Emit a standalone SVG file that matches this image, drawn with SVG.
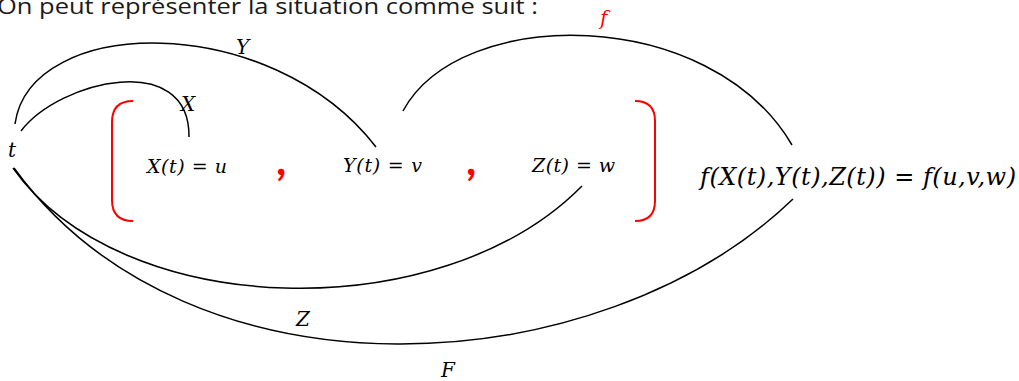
<svg xmlns="http://www.w3.org/2000/svg" width="1019" height="381" viewBox="0 0 1019 381">
  <style>
    .title { font-family: "Open Sans", "Liberation Sans", sans-serif; font-size: 22px; fill: #1a1a1a; }
    .math { font-family: "DejaVu Serif", "Liberation Serif", serif; font-style: italic; fill: #000; }
    .sm { font-size: 19px; }
    .lg { font-size: 24px; }
    .lbl { font-size: 20px; }
    .red { fill: #ff0000; }
    .arc { fill: none; stroke: #000; stroke-width: 1.5; }
    .brk { fill: none; stroke: #ff0000; stroke-width: 2; }
    .comma { font-family: Lato, "Open Sans", sans-serif; font-weight: bold; font-size: 44px; fill: #ff0000; }
  </style>
  <rect width="1019" height="381" fill="#fff"/>
  <text class="title" x="-3" y="14" textLength="541" lengthAdjust="spacingAndGlyphs">On peut représenter la situation comme suit :</text>

  <g id="connectors">
    <path class="arc" d="M15,124 C30,15 270,10 376,147"/>
    <path class="arc" d="M21,131 C60,80 190,50 189,137"/>
    <path class="arc" d="M403,111 C460,5 710,5 792,145"/>
    <path class="arc" d="M13,168 C120,320 440,330 582,186"/>
    <path class="arc" d="M14,168 C190,410 600,385 793,199"/>
    <text class="math lbl" x="236" y="54">Y</text>
    <text class="math lbl" x="181" y="111">X</text>
    <text class="math lbl red" x="600" y="25">f</text>
    <text class="math lbl" x="296" y="326">Z</text>
    <text class="math lbl" x="441" y="377">F</text>
  </g>

  <g id="node-t">
    <text class="math lbl" x="8" y="157">t</text>
  </g>

  <g id="node-bracket-left">
    <path class="brk" d="M133,101 Q112,101 112,122 L112,200 Q112,221 133,221"/>
  </g>
  <g id="node-x">
    <text class="math sm" x="147" y="173" textLength="80" lengthAdjust="spacing">X(t) = u</text>
  </g>
  <g id="node-comma1">
    <text class="comma" x="276" y="175">,</text>
  </g>
  <g id="node-y">
    <text class="math sm" x="343" y="172" textLength="79" lengthAdjust="spacing">Y(t) = v</text>
  </g>
  <g id="node-comma2">
    <text class="comma" x="466" y="175">,</text>
  </g>
  <g id="node-z">
    <text class="math sm" x="532" y="172" textLength="83" lengthAdjust="spacing">Z(t) = w</text>
  </g>
  <g id="node-bracket-right">
    <path class="brk" d="M635,101 Q655,101 655,121 L655,201 Q655,221 635,221"/>
  </g>
  <g id="node-f">
    <text class="math lg" x="700" y="185" textLength="316" lengthAdjust="spacing">f(X(t),Y(t),Z(t)) = f(u,v,w)</text>
  </g>
</svg>
